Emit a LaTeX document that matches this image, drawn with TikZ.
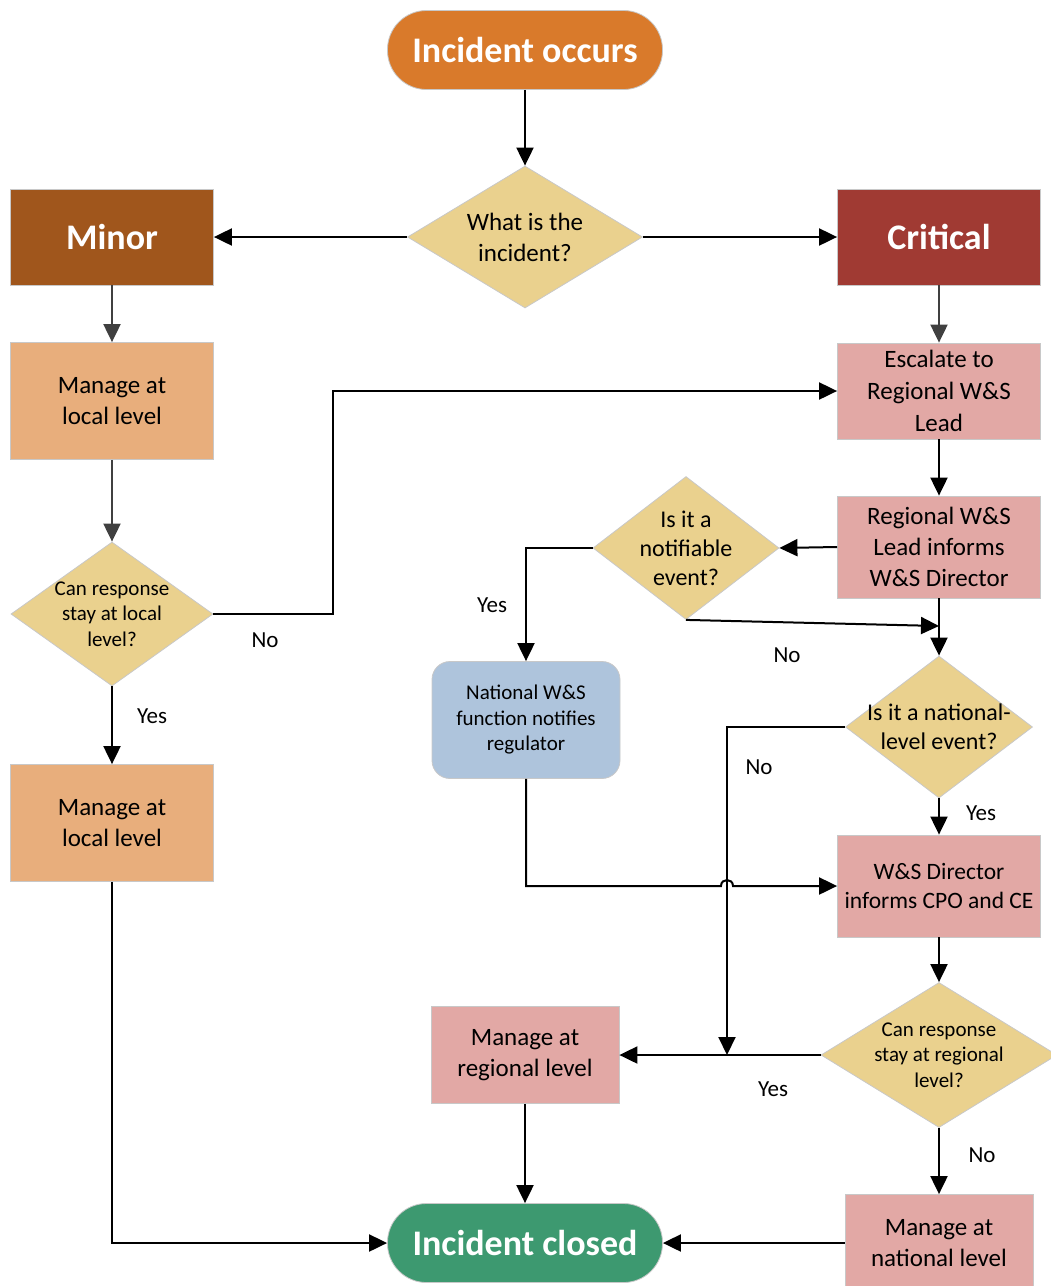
\documentclass[tikz,border=0pt]{standalone}
\usepackage{fontspec}
\setmainfont{Carlito}
\usetikzlibrary{arrows.meta,shapes.geometric}

\definecolor{occurscol}{HTML}{D97A2B}
\definecolor{closedcol}{HTML}{3D9970}
\definecolor{minorcol}{HTML}{A0561C}
\definecolor{criticalcol}{HTML}{A03A33}
\definecolor{localcol}{HTML}{E8AE7C}
\definecolor{regcol}{HTML}{E2A8A5}
\definecolor{questcol}{HTML}{EAD18E}
\definecolor{notifycol}{HTML}{AEC4DC}
\definecolor{edgecol}{HTML}{C8C8C8}
\definecolor{arrgray}{HTML}{404040}

\tikzset{
    terminal/.style={rectangle, rounded corners=39pt, minimum width=275pt, minimum height=79pt,
        inner sep=0pt, draw=edgecol, line width=0.8pt, text=white, font=\fontsize{36}{40}\selectfont\bfseries},
    category/.style={rectangle, minimum width=203pt, minimum height=96pt, inner sep=0pt,
        draw=edgecol, line width=0.8pt, text=white, font=\fontsize{36}{40}\selectfont\bfseries},
    procbox/.style={rectangle, minimum width=203pt, inner sep=0pt, draw=edgecol, line width=0.8pt,
        align=center, font=\fontsize{25}{31}\selectfont},
    localbox/.style={procbox, fill=localcol, minimum height=117pt},
    regbox/.style={procbox, fill=regcol, minimum height=97pt},
    notifybox/.style={procbox, fill=notifycol, rounded corners=18pt, minimum width=188pt,
        minimum height=117pt, font=\fontsize{21}{25.5}\selectfont},
    decision/.style={diamond, inner sep=-30pt, fill=questcol, draw=edgecol, line width=0.8pt,
        align=center, font=\fontsize{24}{29}\selectfont},
    smallq/.style={font=\fontsize{21}{25.5}\selectfont},
    lab/.style={inner sep=0pt, font=\fontsize{23}{27}\selectfont},
    arr/.style={line width=2pt, -{Triangle[length=18pt,width=17pt]}},
}

\begin{document}
\begin{tikzpicture}[x=1pt,y=-1pt]
    \useasboundingbox (0,0) rectangle (1051,1286);

    \node[terminal, fill=occurscol] (occurs) at (525,50) {Incident occurs};
    \node[decision, minimum width=235pt, minimum height=142pt, font=\fontsize{25}{31}\selectfont] (what) at (525,237) {What is the\\incident?};
    \node[category, fill=minorcol] (minor) at (112,237) {Minor};
    \node[category, fill=criticalcol] (critical) at (939,237) {Critical};

    \node[localbox] (local1) at (112,401) {Manage at\\local level};
    \node[decision, smallq, minimum width=202pt, minimum height=144pt] (localq) at (112,614) {Can response\\stay at local\\level?};
    \node[localbox] (local2) at (112,823) {Manage at\\local level};

    \node[regbox, minimum height=96pt, font=\fontsize{25}{32}\selectfont] (escalate) at (939,391) {Escalate to\\Regional W\&S\\Lead};
    \node[regbox, minimum height=102pt] (informs) at (939,547) {Regional W\&S\\Lead informs\\W\&S Director};
    \node[decision, minimum width=186pt, minimum height=143pt] (notifq) at (686,548) {Is it a\\notifiable\\event?};
    \node[notifybox] (regulator) at (526,720) {National W\&S\\function notifies\\regulator};
    \node[decision, minimum width=187pt, minimum height=142pt] (nationalq) at (939,727) {Is it a national-\\level event?};
    \node[regbox, minimum height=102pt, font=\fontsize{23.5}{29}\selectfont] (director) at (939,886) {W\&S Director\\informs CPO and CE};
    \node[decision, smallq, minimum width=236pt, minimum height=145pt] (regionalq) at (939,1055) {Can response\\stay at regional\\level?};
    \node[regbox, minimum width=188pt] (regional) at (525,1055) {Manage at\\regional level};
    \node[regbox, minimum width=188pt] (national) at (939,1243) {Manage at\\national level};
    \node[terminal, fill=closedcol] (closed) at (525,1243) {Incident closed};

    \coordinate (nomerge) at (939,626);
    \coordinate (yesmerge) at (727,1055);
    \coordinate (hopin) at (721,886);
    \coordinate (hopout) at (733,886);

    \draw[arr] (occurs) -- (what);
    \draw[arr] (what) -- (minor);
    \draw[arr] (what) -- (critical);
    \draw[arr, arrgray] (minor) -- (local1);
    \draw[arr, arrgray] (local1) -- (localq);
    \draw[arr, arrgray] (critical) -- (escalate);
    \draw[arr] (localq.east) -- ++(120,0) |- (escalate.west);
    \draw[arr] (localq) -- (local2);
    \draw[arr] (local2) |- (closed);
    \draw[arr] (escalate) -- (informs);
    \draw[arr] (informs.west) -- (notifq.east);
    \draw[arr] (notifq.west) -| (regulator.north);
    \draw[arr] (notifq.south) -- (nomerge);
    \draw[arr] (informs) -- (nationalq);
    \draw[arr] (nationalq.west) -| (yesmerge);
    \draw[arr] (nationalq) -- (director);
    \draw[arr] (regulator.south) |- (hopin) .. controls (721,878) and (733,878) .. (hopout) -- (director.west);
    \draw[arr] (director) -- (regionalq);
    \draw[arr] (regionalq) -- (regional);
    \draw[arr] (regionalq) -- (national);
    \draw[arr] (regional) -- (closed);
    \draw[arr] (national) -- (closed);

    \node[lab] (nolocal) at (265,640) {No};
    \node[lab] (yeslocal) at (152,716) {Yes};
    \node[lab] (yesnotif) at (492,605) {Yes};
    \node[lab] (nonotif) at (787,655) {No};
    \node[lab] (nonational) at (759,767) {No};
    \node[lab] (yesnational) at (981,813) {Yes};
    \node[lab] (yesregional) at (773,1089) {Yes};
    \node[lab] (noregional) at (982,1155) {No};
\end{tikzpicture}
\end{document}
